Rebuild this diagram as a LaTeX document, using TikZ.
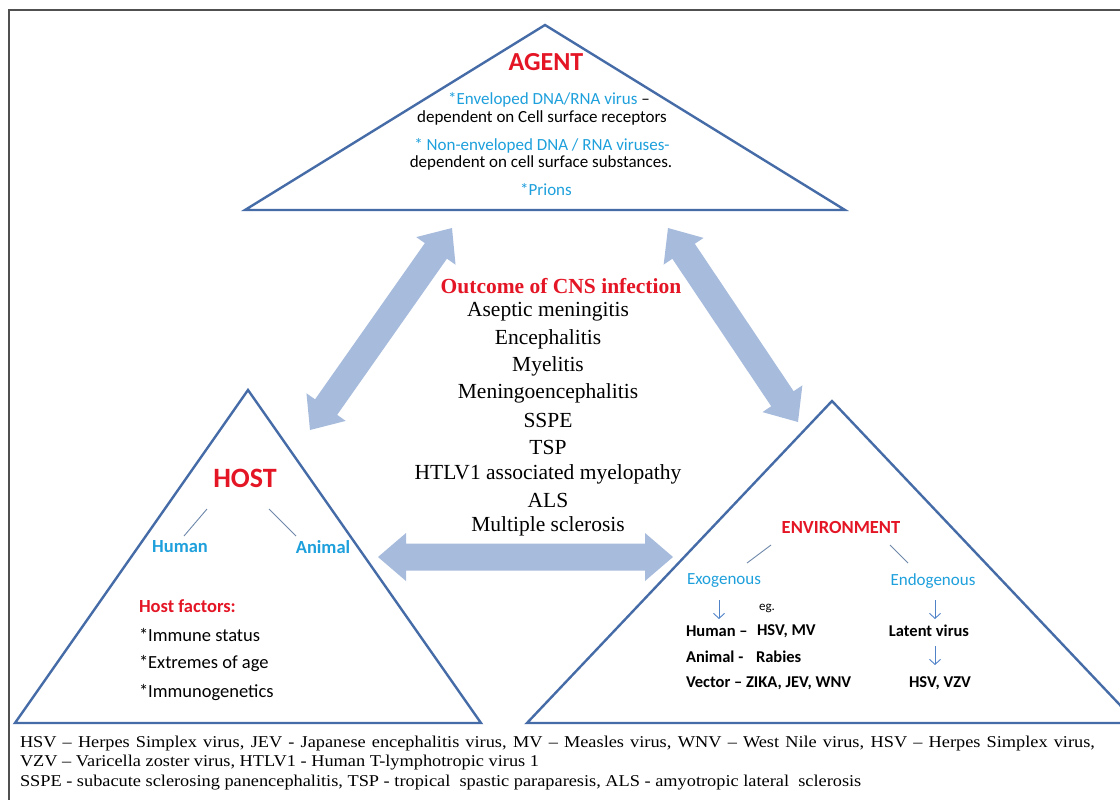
\documentclass[tikz,border=0pt]{standalone}
\usepackage{fontspec}
\setmainfont{Carlito}
\newfontfamily\tnr{Liberation Serif}
\newfontfamily\tnrwide[FakeStretch=1.11]{Liberation Serif}
\usetikzlibrary{calc,arrows.meta}
\definecolor{redc}{RGB}{228,22,38}
\definecolor{cyanc}{RGB}{30,160,220}
\definecolor{tric}{RGB}{70,108,168}
\definecolor{arrc}{RGB}{167,187,220}
\definecolor{framec}{RGB}{80,80,80}
\definecolor{linec}{RGB}{110,135,170}
\definecolor{smallarr}{RGB}{80,130,200}
\newcommand\fs[1]{\fontsize{#1}{#1}\selectfont}
\newcommand\dblarrow[2]{%
\fill[arrc]
 (#1)
 -- ($(#1)!28pt!(#2)+(#1)!24pt!90:(#2)-(#1)$)
 -- ($(#1)!28pt!(#2)+(#1)!13.5pt!90:(#2)-(#1)$)
 -- ($(#2)!28pt!(#1)+(#2)!13.5pt!-90:(#1)-(#2)$)
 -- ($(#2)!28pt!(#1)+(#2)!24pt!-90:(#1)-(#2)$)
 -- (#2)
 -- ($(#2)!28pt!(#1)+(#2)!24pt!90:(#1)-(#2)$)
 -- ($(#2)!28pt!(#1)+(#2)!13.5pt!90:(#1)-(#2)$)
 -- ($(#1)!28pt!(#2)+(#1)!13.5pt!-90:(#2)-(#1)$)
 -- ($(#1)!28pt!(#2)+(#1)!24pt!-90:(#2)-(#1)$)
 -- cycle;}
\tikzset{
 tri/.style={draw=tric, line width=2.4pt, line join=miter},
 lbl/.style={inner sep=0pt, outer sep=0pt},
 head/.style={lbl, text=redc, font=\bfseries},
 sub/.style={lbl, text=cyanc},
 outc/.style={lbl, font=\tnr\fs{21.5}},
 hostitem/.style={lbl, anchor=west, font=\fs{18.5}},
 envitem/.style={lbl, anchor=west, font=\fs{16.5}\bfseries},
 thinline/.style={draw=linec, line width=0.9pt},
 downarr/.style={draw=smallarr, line width=0.9pt, -{Straight Barb[length=5pt,width=11pt]}},
 foot/.style={lbl, anchor=base west, font=\tnrwide\fs{16.5}}
}
\begin{document}
\begin{tikzpicture}[x=1pt,y=-1pt]
\useasboundingbox (0,0) rectangle (1120,800);
\fill[white] (0,0) rectangle (1120,800);
\draw[framec, line width=1.5pt] (9,10) rectangle (1140,820);

% triangles
\coordinate (agA) at (545,25); \coordinate (agB) at (245,210); \coordinate (agC) at (845,210);
\coordinate (hoA) at (248,390); \coordinate (hoB) at (15,723); \coordinate (hoC) at (481,723);
\coordinate (enA) at (832,401); \coordinate (enB) at (527,723); \coordinate (enC) at (1137,723);
\draw[tri] (agA) -- (agB) -- (agC) -- cycle;
\draw[tri] (hoA) -- (hoB) -- (hoC) -- cycle;
\draw[tri] (enA) -- (enB) -- (enC) -- cycle;

% big double arrows
\coordinate (a1s) at (452,228); \coordinate (a1e) at (310,430);
\coordinate (a2s) at (668,228); \coordinate (a2e) at (798,422);
\coordinate (a3s) at (378,557); \coordinate (a3e) at (673,557);
\dblarrow{a1s}{a1e}
\dblarrow{a2s}{a2e}
\dblarrow{a3s}{a3e}

% agent
\node[head, font=\fs{26}\bfseries] (agent) at (546,62) {AGENT};
\node[lbl, font=\fs{17}] (ag1) at (549,100) {\textcolor{cyanc}{*Enveloped DNA/RNA virus} –};
\node[lbl, font=\fs{17}] (ag2) at (542,118) {dependent on Cell surface receptors};
\node[sub, font=\fs{17}] (ag3) at (542,146) {* Non-enveloped DNA / RNA viruses-};
\node[lbl, font=\fs{17}] (ag4) at (541,163) {dependent on cell surface substances.};
\node[sub, font=\fs{17}] (ag5) at (546,190) {*Prions};

% outcome
\node[lbl, text=redc, font=\tnr\fs{21.5}\bfseries] (out) at (561,286) {Outcome of CNS infection};
\node[outc] (o1) at (548,312) {Aseptic meningitis};
\node[outc] (o2) at (548,339) {Encephalitis};
\node[outc] (o3) at (548,366) {Myelitis};
\node[outc] (o4) at (548,393) {Meningoencephalitis};
\node[outc] (o5) at (548,420) {SSPE};
\node[outc] (o6) at (548,447) {TSP};
\node[outc] (o7) at (548,474) {HTLV1 associated myelopathy};
\node[outc] (o8) at (548,500) {ALS};
\node[outc] (o9) at (548,526) {Multiple sclerosis};

% host
\node[head, font=\fs{28}\bfseries] (host) at (245,478) {HOST};
\node[sub, font=\fs{18.5}\bfseries] (human) at (180,547) {Human};
\node[sub, font=\fs{18.5}\bfseries] (animal) at (323,547) {Animal};
\coordinate (hl1) at (207,509); \coordinate (hl2) at (184,536);
\coordinate (hr1) at (269,509); \coordinate (hr2) at (296,536);
\draw[thinline] (hl1) -- (hl2);
\draw[thinline] (hr1) -- (hr2);
\node[head, anchor=west, font=\fs{18.5}\bfseries] (hf) at (139,606) {Host factors:};
\node[hostitem] (hf1) at (139,635) {*Immune status};
\node[hostitem] (hf2) at (139,664) {*Extremes of age};
\node[hostitem] (hf3) at (139,693) {*Immunogenetics};

% environment
\node[head, font=\fs{18.5}\bfseries] (env) at (841,527) {ENVIRONMENT};
\coordinate (el1) at (771,545); \coordinate (el2) at (747,563);
\coordinate (er1) at (890,545); \coordinate (er2) at (908,563);
\draw[thinline] (el1) -- (el2);
\draw[thinline] (er1) -- (er2);
\node[sub, font=\fs{17}] (exo) at (724,581) {Exogenous};
\node[sub, font=\fs{17}] (endo) at (933,581) {Endogenous};
\coordinate (x1) at (719,600); \coordinate (x2) at (719,619);
\draw[downarr] (x1) -- (x2);
\node[lbl, font=\fs{13}] (eg) at (767,608) {eg.};
\node[envitem] (eh) at (686,631) {Human –};
\node[envitem] (eh2) at (757,631) {HSV, MV};
\node[envitem] (ea) at (686,657) {Animal -};
\node[envitem] (ea2) at (756,657) {Rabies};
\node[envitem] (ev) at (686,683) {Vector – ZIKA, JEV, WNV};
\coordinate (n1) at (935,600); \coordinate (n2) at (935,619);
\draw[downarr] (n1) -- (n2);
\node[lbl, font=\fs{16.5}\bfseries] (lat) at (929,631) {Latent virus};
\coordinate (n3) at (935,646); \coordinate (n4) at (935,665);
\draw[downarr] (n3) -- (n4);
\node[lbl, font=\fs{16.5}\bfseries] (hv) at (940,683) {HSV, VZV};

% footer
\node[foot] (f1) at (20,747) {\hbox to 1075pt{HSV – Herpes Simplex virus, JEV - Japanese encephalitis virus, MV – Measles virus, WNV – West Nile virus, HSV – Herpes Simplex virus,}};
\node[foot] (f2) at (20,766) {VZV – Varicella zoster virus, HTLV1 - Human T-lymphotropic virus 1};
\node[foot] (f3) at (20,786) {SSPE - subacute sclerosing panencephalitis, TSP - tropical\ \ spastic paraparesis, ALS - amyotropic lateral\ \ sclerosis};
\end{tikzpicture}
\end{document}
